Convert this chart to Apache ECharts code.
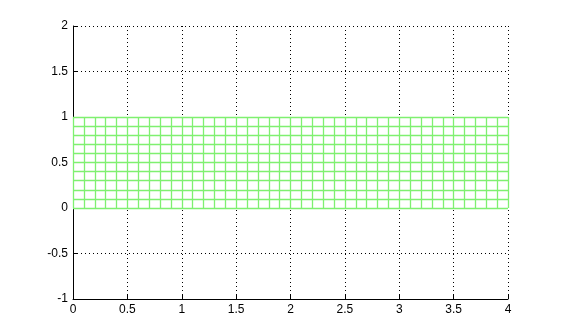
<!DOCTYPE html>
<html>
<head>
<meta charset="utf-8">
<script src="https://cdn.jsdelivr.net/npm/echarts@6/dist/echarts.min.js"></script>
<style>
html,body{margin:0;padding:0;background:#fff;}
#c{width:561px;height:336px;}
</style>
</head>
<body>
<div id="c"></div>
<script>
// Mesh node coordinates
var meshX = [0,0.1,0.2,0.3,0.4,0.5,0.6,0.7,0.8,0.9,1,1.1,1.2,1.3,1.4,1.5,1.6,1.7,1.8,1.9,2,2.1,2.2,2.3,2.4,2.5,2.6,2.7,2.8,2.9,3,3.1,3.2,3.3,3.4,3.5,3.6,3.7,3.8,3.9,4];
var meshY = [0,0.1,0.2,0.3,0.4,0.5,0.6,0.7,0.8,0.9,1];
// Axis ranges / ticks
var xTicks = [0,0.5,1,1.5,2,2.5,3,3.5,4];
var yTicks = [-1,-0.5,0,0.5,1,1.5,2];

var segs = [];
var xMin = meshX[0], xMax = meshX[meshX.length-1];
var yMin = meshY[0], yMax = meshY[meshY.length-1];
meshY.forEach(function(y){ segs.push({coords:[[xMin,y],[xMax,y]]}); });
meshX.forEach(function(x){ segs.push({coords:[[x,yMin],[x,yMax]]}); });

var font = {fontFamily:'Liberation Sans, Arial, Helvetica, sans-serif', fontSize:12, color:'#000'};
var chart = echarts.init(document.getElementById('c'), null, {renderer:'canvas'});
chart.setOption({
  animation:false,
  backgroundColor:'#fff',
  grid:{left:73, right:53, top:26, bottom:37, containLabel:false},
  xAxis:{
    type:'value', min:xTicks[0], max:xTicks[xTicks.length-1], interval:0.5,
    axisLine:{show:true, onZero:false, lineStyle:{color:'#000', width:1}},
    axisTick:{show:true, inside:true, length:4, lineStyle:{color:'#000'}},
    axisLabel:Object.assign({margin:5}, font),
    splitLine:{show:true, lineStyle:{color:'#000', width:1, type:[1,3]}}
  },
  yAxis:{
    type:'value', min:yTicks[0], max:yTicks[yTicks.length-1], interval:0.5,
    axisLine:{show:true, onZero:false, lineStyle:{color:'#000', width:1}},
    axisTick:{show:true, inside:true, length:4, lineStyle:{color:'#000'}},
    axisLabel:Object.assign({margin:5}, font),
    splitLine:{show:true, lineStyle:{color:'#000', width:1, type:[1,3]}}
  },
  series:[{
    type:'lines',
    coordinateSystem:'cartesian2d',
    silent:true,
    lineStyle:{color:'#7ff070', width:1.3, opacity:1},
    data:segs,
    z:5
  }]
});
</script>
</body>
</html>
